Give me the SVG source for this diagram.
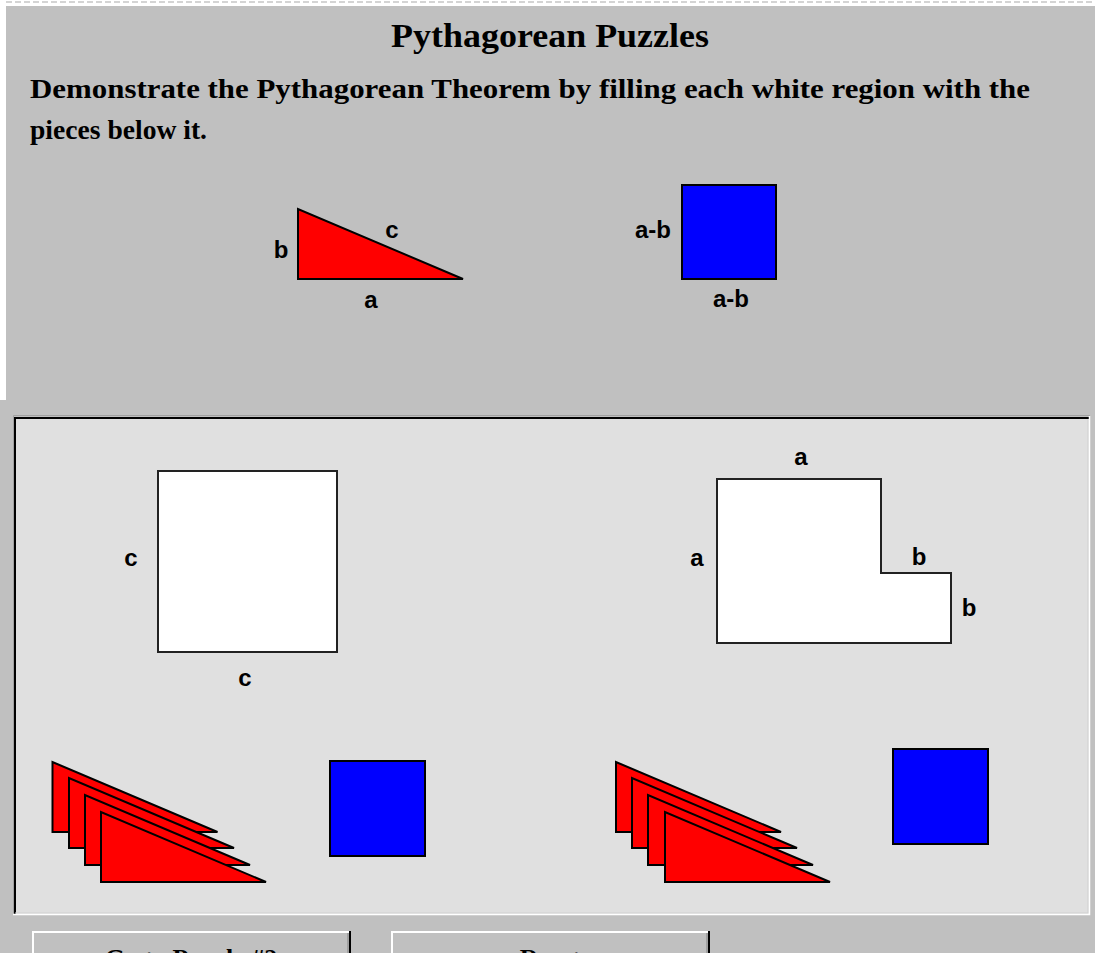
<svg xmlns="http://www.w3.org/2000/svg" width="1095" height="953" viewBox="0 0 1095 953">
<style>
.ttl{font-family:"Liberation Serif","Times New Roman",serif;font-weight:bold;fill:#000}
.lbl{font-family:"Liberation Sans",Arial,sans-serif;font-weight:bold;font-size:24px;fill:#000}
.tri{fill:#ff0000;stroke:#000;stroke-width:2;stroke-linejoin:miter}
.sq{fill:#0000ff;stroke:#000;stroke-width:2}
.hole{fill:#fff;stroke:#222;stroke-width:2}
</style>
<defs>
<polygon id="t" points="0,0 0,70 165,70" class="tri"/>
</defs>
<rect x="0" y="0" width="1095" height="953" fill="#fff"/>
<rect x="6" y="6" width="1089" height="947" fill="#c0c0c0"/>
<line x1="6" y1="2" x2="1095" y2="2" stroke="#d4d4d4" stroke-width="2" stroke-dasharray="6 3"/>
<rect x="0" y="400" width="6" height="553" fill="#c0c0c0"/>

<g id="header">
<text class="ttl" x="550" y="47" font-size="34" text-anchor="middle" textLength="318" lengthAdjust="spacingAndGlyphs">Pythagorean Puzzles</text>
<text class="ttl" x="30" y="98" font-size="28" textLength="1000" lengthAdjust="spacingAndGlyphs">Demonstrate the Pythagorean Theorem by filling each white region with the</text>
<text class="ttl" x="30" y="139" font-size="28" textLength="177" lengthAdjust="spacingAndGlyphs">pieces below it.</text>
</g>

<g id="legend-triangle">
<polygon points="298,209 298,279 463,279" class="tri"/>
<text class="lbl" x="392" y="238" text-anchor="middle">c</text>
<text class="lbl" x="281" y="258" text-anchor="middle">b</text>
<text class="lbl" x="371" y="308" text-anchor="middle">a</text>
</g>
<g id="legend-square">
<rect x="682" y="185" width="94" height="94" class="sq"/>
<text class="lbl" x="653" y="238" text-anchor="middle">a-b</text>
<text class="lbl" x="731" y="307" text-anchor="middle">a-b</text>
</g>

<g id="panel">
<rect x="14" y="417" width="1076" height="497" fill="#e0e0e0"/>
<path d="M13.5,915 V415.5 H1090" fill="none" stroke="#a0a0a0" stroke-width="1"/>
<path d="M15,914 V418 H1089" fill="none" stroke="#000" stroke-width="2"/>
<path d="M15,913 H1088 V419" fill="none" stroke="#d0d0d0" stroke-width="1"/>
<path d="M13,914.5 H1089.5 V416" fill="none" stroke="#fff" stroke-width="1.5"/>
</g>

<g id="region-c-square">
<rect x="158" y="471" width="179" height="181" class="hole"/>
<text class="lbl" x="131" y="566" text-anchor="middle">c</text>
<text class="lbl" x="245" y="686" text-anchor="middle">c</text>
</g>
<g id="region-L">
<path d="M717,479 H881 V573 H951 V643 H717 Z" class="hole"/>
<text class="lbl" x="801" y="465" text-anchor="middle">a</text>
<text class="lbl" x="697" y="566" text-anchor="middle">a</text>
<text class="lbl" x="919" y="565" text-anchor="middle">b</text>
<text class="lbl" x="969" y="616" text-anchor="middle">b</text>
</g>

<g id="pieces-left">
<use href="#t" x="52.5" y="762"/>
<use href="#t" x="69" y="778"/>
<use href="#t" x="85" y="795"/>
<use href="#t" x="101" y="812"/>
<rect x="330" y="761" width="95" height="95" class="sq"/>
</g>
<g id="pieces-right">
<use href="#t" x="616" y="762"/>
<use href="#t" x="632" y="778"/>
<use href="#t" x="648" y="795"/>
<use href="#t" x="665" y="812"/>
<rect x="893" y="749" width="95" height="95" class="sq"/>
</g>

<g id="button-next">
<path d="M33,953 V932 H349" fill="none" stroke="#fff" stroke-width="2"/>
<line x1="348" y1="933" x2="348" y2="953" stroke="#808080" stroke-width="1"/>
<line x1="350" y1="931" x2="350" y2="953" stroke="#000" stroke-width="2"/>
<text class="ttl" x="191" y="967" font-size="26" text-anchor="middle">Go to Puzzle #2</text>
</g>
<g id="button-reset">
<path d="M392,953 V932 H708" fill="none" stroke="#fff" stroke-width="2"/>
<line x1="707" y1="933" x2="707" y2="953" stroke="#808080" stroke-width="1"/>
<line x1="709" y1="931" x2="709" y2="953" stroke="#000" stroke-width="2"/>
<text class="ttl" x="550" y="967" font-size="26" text-anchor="middle">Reset</text>
</g>
<g id="connectors"/>
</svg>
